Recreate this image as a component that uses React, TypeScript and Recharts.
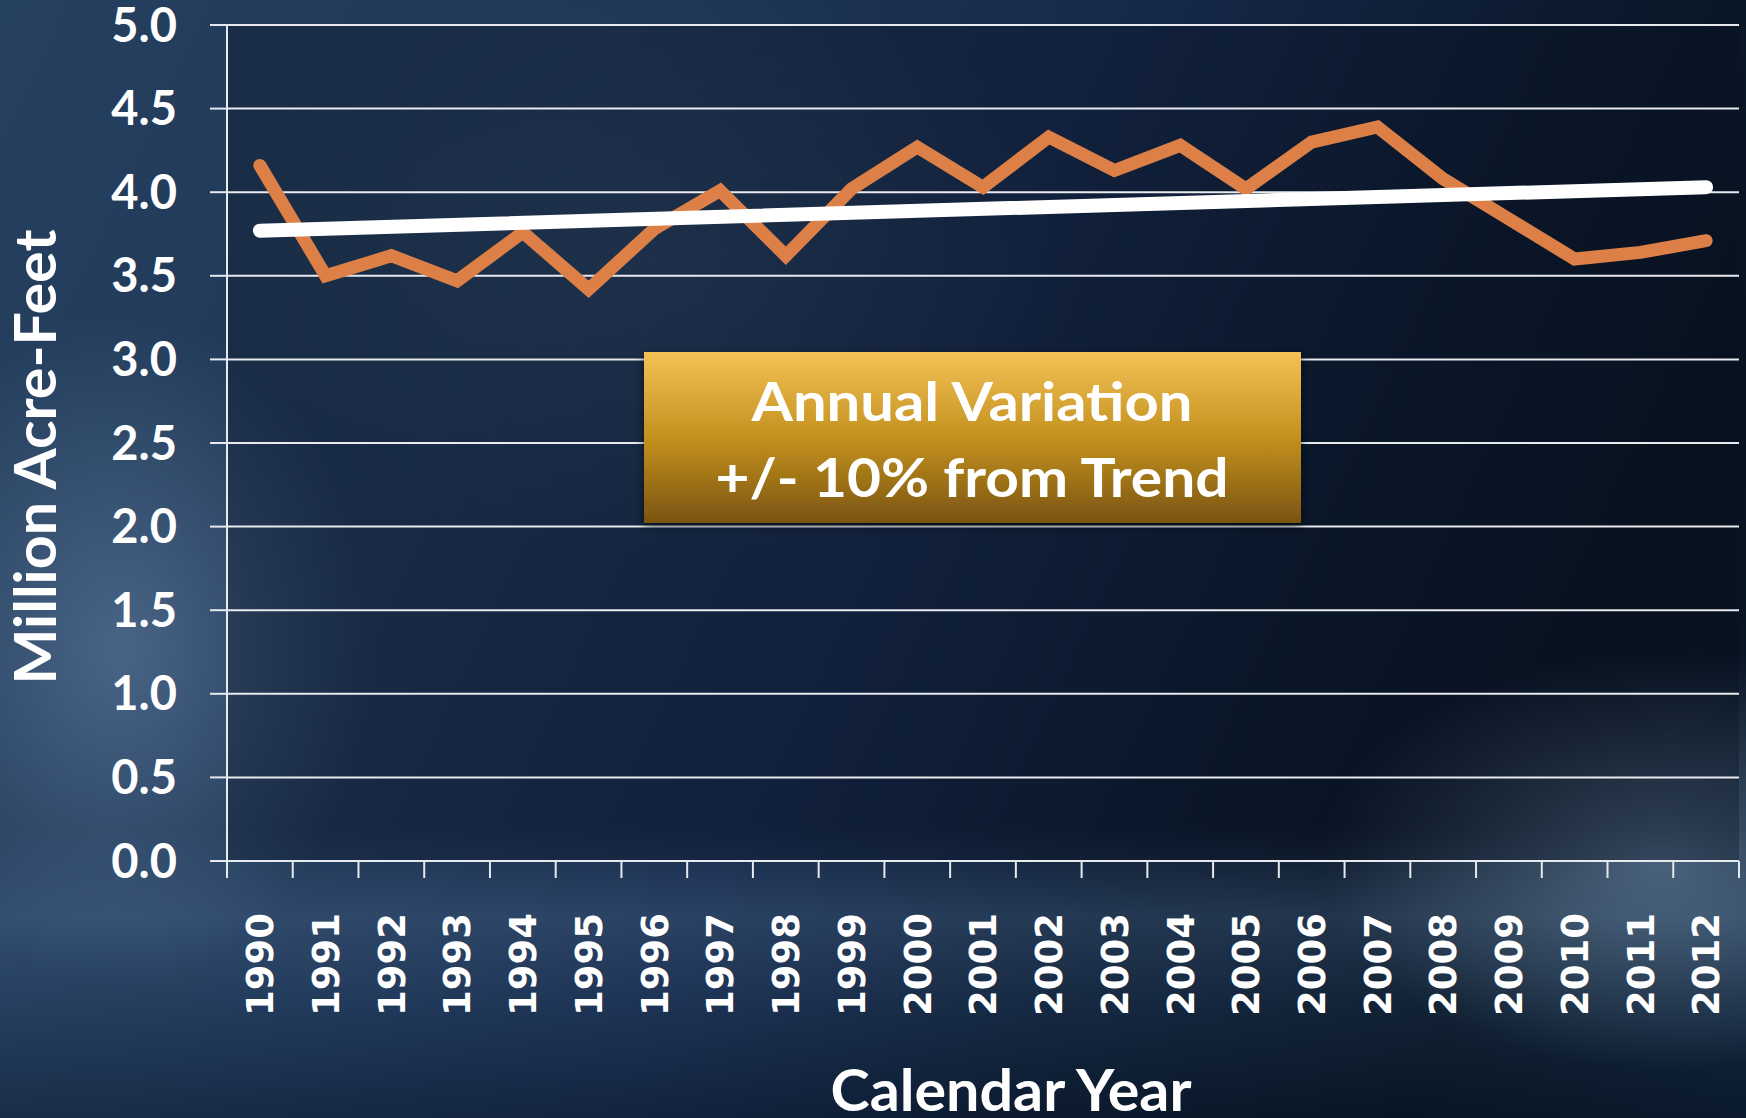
import React from 'react';
import { LineChart, Line, XAxis, YAxis, CartesianGrid } from 'recharts';

const YEARS = [1990, 1991, 1992, 1993, 1994, 1995, 1996, 1997, 1998, 1999, 2000, 2001, 2002, 2003, 2004, 2005, 2006, 2007, 2008, 2009, 2010, 2011, 2012];
const FLOW = [4.16, 3.50, 3.62, 3.47, 3.76, 3.42, 3.78, 4.01, 3.62, 4.02, 4.27, 4.03, 4.33, 4.13, 4.28, 4.02, 4.30, 4.39, 4.08, 3.84, 3.60, 3.64, 3.71];
const TREND_START = 3.77;
const TREND_END = 4.03;
const Y_TICKS = [0, 0.5, 1.0, 1.5, 2.0, 2.5, 3.0, 3.5, 4.0, 4.5, 5.0];
const Y_TITLE = 'Million Acre-Feet';
const X_TITLE = 'Calendar Year';
const NOTE_LINES = ['Annual Variation', '+/- 10% from Trend'];

const data = YEARS.map((year, i) => ({
  year,
  flow: FLOW[i],
  trend: i === 0 ? TREND_START : i === YEARS.length - 1 ? TREND_END : null,
}));

const BOUNDARIES = YEARS.map((y) => y - 0.5).concat([YEARS[YEARS.length - 1] + 0.5]);
const X_TICKS = [...BOUNDARIES, ...YEARS].sort((a, b) => a - b);

const W = 1746;
const H = 1118;

const XTick = (props: any) => {
  const { x, y, payload } = props;
  const v = payload.value;
  if (Number.isInteger(v)) {
    const ty = y + 52;
    return (
      <text
        x={x}
        y={ty}
        transform={`rotate(-90 ${x} ${ty})`}
        textAnchor="end"
        dy="0.36em"
        fill="#ffffff"
        fontFamily="DejaVu Sans"
        fontWeight="bold"
        fontSize={37}
      >
        {v}
      </text>
    );
  }
  return <line x1={x} x2={x} y1={y} y2={y + 17} stroke="#e6e9ee" strokeWidth={2} />;
};

export default function App() {
  return (
    <div
      style={{
        position: 'fixed',
        left: 0,
        top: 0,
        width: W,
        height: H,
        overflow: 'hidden',
        background:
          'radial-gradient(ellipse 360px 480px at 120px 650px, rgba(105,135,170,0.55), rgba(0,0,0,0) 70%),' +
          'radial-gradient(ellipse 480px 300px at 1660px 860px, rgba(110,140,170,0.6), rgba(0,0,0,0) 70%),' +
          'radial-gradient(ellipse 600px 420px at 650px 260px, rgba(60,85,115,0.35), rgba(0,0,0,0) 70%),' +
          'linear-gradient(180deg, rgba(0,0,0,0) 74%, rgba(80,110,145,0.35) 82%, rgba(50,80,115,0.25) 90%, rgba(10,25,45,0.35) 100%),' +
          'linear-gradient(115deg, #26405f 0%, #1f3756 28%, #16294a 50%, #0c1b30 68%, #07121f 85%, #0a1a2c 100%)',
      }}
    >
      <LineChart width={W} height={H} data={data} margin={{ top: 25, right: 7, left: 0, bottom: 0 }}>
        <CartesianGrid
          horizontal
          vertical={false}
          stroke="#e8eaee"
          strokeWidth={2}
          strokeOpacity={1}
          fill="rgba(8,16,30,0.32)"
          fillOpacity={1}
        />
        <XAxis
          dataKey="year"
          type="number"
          domain={[1989.5, 2012.5]}
          ticks={X_TICKS}
          interval={0}
          tickLine={false}
          tickSize={0}
          tickMargin={0}
          height={257}
          axisLine={{ stroke: '#e6e9ee', strokeWidth: 2 }}
          tick={<XTick />}
          allowDataOverflow
        />
        <YAxis
          type="number"
          domain={[0, 5]}
          ticks={Y_TICKS}
          interval={0}
          width={227}
          tickSize={17}
          tickMargin={33}
          tickFormatter={(v: number) => v.toFixed(1)}
          axisLine={{ stroke: '#e6e9ee', strokeWidth: 2 }}
          tickLine={{ stroke: '#e6e9ee', strokeWidth: 2 }}
          tick={{ fill: '#ffffff', fontSize: 47, fontFamily: 'Lato', fontWeight: 700 }}
        />
        <Line
          type="linear"
          dataKey="flow"
          stroke="#dd8047"
          strokeWidth={13}
          strokeLinecap="round"
          strokeLinejoin="miter"
          dot={false}
          activeDot={false}
          isAnimationActive={false}
        />
        <Line
          type="linear"
          dataKey="trend"
          stroke="#ffffff"
          strokeWidth={14}
          strokeLinecap="round"
          connectNulls
          dot={false}
          activeDot={false}
          isAnimationActive={false}
        />
      </LineChart>
      <svg
        width={W}
        height={H}
        style={{ position: 'absolute', left: 0, top: 0, pointerEvents: 'none' }}
      >
        <defs>
          <linearGradient id="gold" x1="0" y1="0" x2="0" y2="1">
            <stop offset="0%" stopColor="#f3c256" />
            <stop offset="50%" stopColor="#c4911f" />
            <stop offset="100%" stopColor="#7a5410" />
          </linearGradient>
          <filter id="shadow" x="-10%" y="-20%" width="120%" height="140%">
            <feGaussianBlur in="SourceAlpha" stdDeviation="5" />
            <feOffset dx="0" dy="3" result="b" />
            <feFlood floodColor="#000" floodOpacity="0.6" />
            <feComposite in2="b" operator="in" />
            <feMerge>
              <feMergeNode />
              <feMergeNode in="SourceGraphic" />
            </feMerge>
          </filter>
        </defs>
        <rect x={644} y={352} width={657} height={171} fill="url(#gold)" filter="url(#shadow)" />
        <text
          x={972}
          y={421}
          textAnchor="middle"
          fill="#ffffff"
          fontFamily="Lato"
          fontWeight={700}
          fontSize={54}
          textLength={441}
          lengthAdjust="spacingAndGlyphs"
        >
          {NOTE_LINES[0]}
        </text>
        <text
          x={972}
          y={497}
          textAnchor="middle"
          fill="#ffffff"
          fontFamily="Lato"
          fontWeight={700}
          fontSize={54}
          textLength={513}
          lengthAdjust="spacingAndGlyphs"
        >
          {NOTE_LINES[1]}
        </text>
        <text
          x={1011}
          y={1111}
          textAnchor="middle"
          fill="#ffffff"
          fontFamily="Lato"
          fontWeight={700}
          fontSize={57}
          textLength={361}
          lengthAdjust="spacingAndGlyphs"
        >
          {X_TITLE}
        </text>
        <text
          x={56}
          y={457}
          transform="rotate(-90 56 457)"
          textAnchor="middle"
          fill="#ffffff"
          fontFamily="Lato"
          fontWeight={700}
          fontSize={57}
          textLength={455}
          lengthAdjust="spacingAndGlyphs"
        >
          {Y_TITLE}
        </text>
      </svg>
    </div>
  );
}
